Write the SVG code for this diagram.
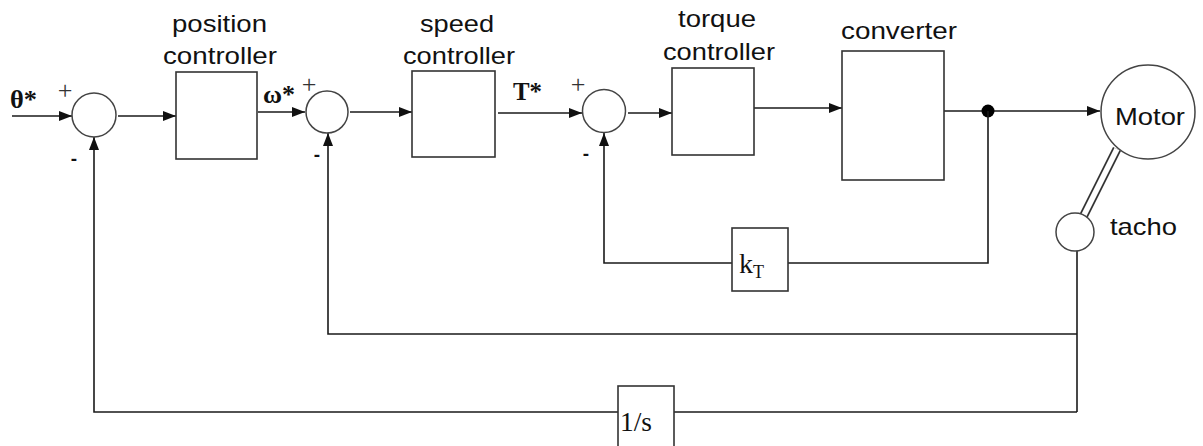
<svg xmlns="http://www.w3.org/2000/svg" width="1203" height="446" viewBox="0 0 1203 446">
<defs>
<marker id="arr" markerUnits="userSpaceOnUse" markerWidth="14" markerHeight="10" refX="13" refY="5" orient="auto">
<path d="M0,0 L13,5 L0,10 Z" fill="#111"/>
</marker>
<style>
.box{fill:#fff;stroke:#333;stroke-width:1.6}
.sum{fill:#fff;stroke:#444;stroke-width:1.5}
.ln{fill:none;stroke:#1a1a1a;stroke-width:1.6}
.lbl{font-family:"Liberation Sans",Arial,sans-serif;font-size:24px;fill:#111}
.sym{font-family:"Liberation Serif","Times New Roman",serif;font-weight:bold;font-size:26px;fill:#111}
.pl{font-family:"Liberation Serif","Times New Roman",serif;font-size:26px;fill:#333;text-anchor:middle}
.mi{font-family:"Liberation Sans",Arial,sans-serif;font-weight:bold;font-size:19px;fill:#111;text-anchor:middle}
.ser{font-family:"Liberation Serif","Times New Roman",serif;fill:#111}
</style>
</defs>
<rect width="1203" height="446" fill="#fff"/>

<g id="connectors">
<line class="ln" x1="12" y1="116" x2="72" y2="116" marker-end="url(#arr)"/>
<line class="ln" x1="118" y1="116" x2="176" y2="116" marker-end="url(#arr)"/>
<line class="ln" x1="258" y1="112" x2="305" y2="112" marker-end="url(#arr)"/>
<line class="ln" x1="350" y1="112" x2="412" y2="112" marker-end="url(#arr)"/>
<line class="ln" x1="498" y1="113" x2="582" y2="113" marker-end="url(#arr)"/>
<line class="ln" x1="628" y1="113" x2="672" y2="113" marker-end="url(#arr)"/>
<line class="ln" x1="754" y1="108" x2="842" y2="108" marker-end="url(#arr)"/>
<line class="ln" x1="944" y1="111" x2="1100" y2="111" marker-end="url(#arr)"/>
<circle cx="988" cy="111" r="6.5" fill="#000"/>
<polyline class="ln" points="988,111 988,263 788,263"/>
<polyline class="ln" points="732,263 604,263 604,133" marker-end="url(#arr)"/>
<line class="ln" x1="1077" y1="251" x2="1077" y2="412"/>
<polyline class="ln" points="1077,334 328,334 328,133" marker-end="url(#arr)"/>
<polyline class="ln" points="674,412 1077,412"/>
<polyline class="ln" points="618,412 94,412 94,137" marker-end="url(#arr)"/>
<line x1="1117" y1="149" x2="1083" y2="217" stroke="#333" stroke-width="9"/>
<line x1="1117" y1="149" x2="1083" y2="217" stroke="#fff" stroke-width="5.5"/>
</g>

<g id="input">
<text class="sym" x="10" y="108" textLength="27" lengthAdjust="spacingAndGlyphs">θ*</text>
</g>

<g id="sum1">
<circle class="sum" cx="94" cy="115" r="22"/>
<text class="pl" x="65" y="99">+</text>
<text class="mi" x="74" y="165">-</text>
</g>

<g id="position-controller">
<rect class="box" x="176" y="72" width="81" height="87"/>
<text class="lbl" x="172" y="32" textLength="95" lengthAdjust="spacingAndGlyphs">position</text>
<text class="lbl" x="163" y="64" textLength="114" lengthAdjust="spacingAndGlyphs">controller</text>
</g>

<g id="omega-ref">
<text class="sym" x="263" y="103" textLength="32" lengthAdjust="spacingAndGlyphs">ω*</text>
</g>

<g id="sum2">
<circle class="sum" cx="327" cy="112" r="21"/>
<text class="pl" x="309" y="93">+</text>
<text class="mi" x="317" y="161">-</text>
</g>

<g id="speed-controller">
<rect class="box" x="412" y="71" width="83" height="86"/>
<text class="lbl" x="420" y="32" textLength="74" lengthAdjust="spacingAndGlyphs">speed</text>
<text class="lbl" x="403" y="64" textLength="112" lengthAdjust="spacingAndGlyphs">controller</text>
</g>

<g id="torque-ref">
<text class="sym" x="513" y="100" textLength="29" lengthAdjust="spacingAndGlyphs">T*</text>
</g>

<g id="sum3">
<circle class="sum" cx="604" cy="111" r="21.5"/>
<text class="pl" x="578" y="93">+</text>
<text class="mi" x="586" y="160">-</text>
</g>

<g id="torque-controller">
<rect class="box" x="672" y="68" width="82" height="87"/>
<text class="lbl" x="678" y="27" textLength="78" lengthAdjust="spacingAndGlyphs">torque</text>
<text class="lbl" x="663" y="60" textLength="112" lengthAdjust="spacingAndGlyphs">controller</text>
</g>

<g id="converter">
<rect class="box" x="842" y="51" width="102" height="129"/>
<text class="lbl" x="841" y="39" textLength="116" lengthAdjust="spacingAndGlyphs">converter</text>
</g>

<g id="motor">
<circle class="sum" cx="1148" cy="112" r="47"/>
<text class="lbl" x="1115" y="125" font-size="25" textLength="70" lengthAdjust="spacingAndGlyphs">Motor</text>
</g>

<g id="tacho">
<circle class="sum" cx="1075" cy="232" r="19"/>
<text class="lbl" x="1110" y="235" textLength="67" lengthAdjust="spacingAndGlyphs">tacho</text>
</g>

<g id="kT">
<rect class="box" x="732" y="228" width="56" height="63"/>
<text class="ser" x="739" y="273" font-size="28">k<tspan font-size="18" dy="5">T</tspan></text>
</g>

<g id="integrator">
<rect class="box" x="618" y="386" width="56" height="70"/>
<text class="ser" x="620" y="431" font-size="27" textLength="32" lengthAdjust="spacingAndGlyphs">1/s</text>
</g>
</svg>
